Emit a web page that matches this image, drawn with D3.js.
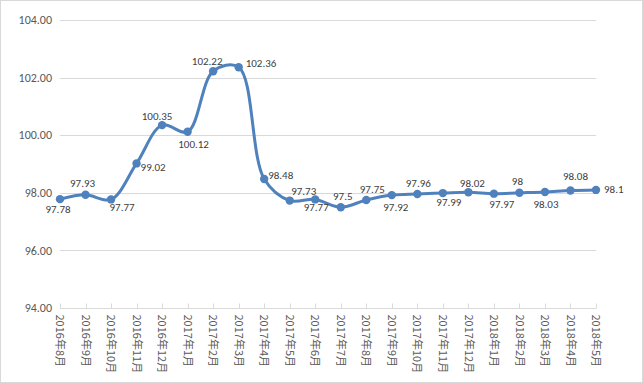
<!DOCTYPE html>
<html><head><meta charset="utf-8">
<script src="https://cdn.jsdelivr.net/npm/d3@7"></script>
<style>body{margin:0;background:#fff}svg{display:block}</style>
</head><body><svg id="c" width="643" height="383"></svg>
<script>
const categories = ["2016年8月","2016年9月","2016年10月","2016年11月","2016年12月","2017年1月","2017年2月","2017年3月","2017年4月","2017年5月","2017年6月","2017年7月","2017年8月","2017年9月","2017年10月","2017年11月","2017年12月","2018年1月","2018年2月","2018年3月","2018年4月","2018年5月"];
const values = [97.78,97.93,97.77,99.02,100.35,100.12,102.22,102.36,98.48,97.73,97.77,97.5,97.75,97.92,97.96,97.99,98.02,97.97,98,98.03,98.08,98.1];
const valueLabels = ["97.78","97.93","97.77","99.02","100.35","100.12","102.22","102.36","98.48","97.73","97.77","97.5","97.75","97.92","97.96","97.99","98.02","97.97","98","98.03","98.08","98.1"];
const yTicks = [94,96,98,100,102,104];
// label placement (style): anchor and offset from the point, in px
const labelAnchor = ["m","m","m","s","m","m","m","s","s","m","m","m","m","m","m","m","m","m","m","m","m","s"];
const labelDx = [-2,-3,11,4,-5,6,-6,7,4,14,1,2,6,4,1,6,4,8,-2,1,5,8];
const labelDy = [10,-12,8,4,-9,12,-10,-4,-4,-9,8,-11,-11,12,-11,9,-9,10,-12,12,-14,-1];

const svg = d3.select("#c");
svg.append("rect").attr("x",0.5).attr("y",0.5).attr("width",642).attr("height",382)
  .attr("fill","#fff").attr("stroke","#d9d9d9");

const x = d3.scalePoint().domain(categories).range([60,596]);
const y = d3.scaleLinear().domain([94,104]).range([308,20]);
const font = "Calibri, Carlito, 'Liberation Sans', 'Noto Sans CJK SC', sans-serif";

svg.append("g").selectAll("line").data(yTicks.filter(d=>d>94)).join("line")
  .attr("x1",60).attr("x2",596).attr("y1",d=>Math.round(y(d))+0.5).attr("y2",d=>Math.round(y(d))+0.5)
  .attr("stroke","#d9d9d9").attr("stroke-width",1);

svg.append("g").selectAll("text").data(yTicks).join("text")
  .attr("x",52).attr("y",d=>y(d)).attr("dy","0.35em").attr("text-anchor","end")
  .attr("font-family",font).attr("font-size",12).attr("fill","#595959")
  .text(d=>d.toFixed(2));

const xa = svg.append("g").attr("transform","translate(0,308.5)");
xa.append("line").attr("x1",60).attr("x2",596).attr("stroke","#d9d9d9");
xa.selectAll("line.t").data(categories).join("line").attr("class","t")
  .attr("x1",d=>Math.round(x(d))+0.5).attr("x2",d=>Math.round(x(d))+0.5).attr("y1",-5).attr("y2",0)
  .attr("stroke","#d9d9d9");
xa.selectAll("text").data(categories).join("text")
  .attr("transform",d=>`translate(${x(d)},6) rotate(90)`)
  .attr("dy","0.35em").attr("text-anchor","start")
  .attr("font-family","'Noto Sans CJK SC', sans-serif").attr("font-size",11).attr("fill","#595959")
  .text(d=>d);

const line = d3.line().x((d,i)=>x(categories[i])).y(d=>y(d)).curve(d3.curveCatmullRom.alpha(0.5));
svg.append("path").datum(values).attr("d",line).attr("fill","none")
  .attr("stroke","#4f81bd").attr("stroke-width",3).attr("stroke-linejoin","round");

svg.append("g").selectAll("circle").data(values).join("circle")
  .attr("cx",(d,i)=>x(categories[i])).attr("cy",d=>y(d)).attr("r",4.2).attr("fill","#4f81bd");

svg.append("g").selectAll("text").data(values).join("text")
  .attr("x",(d,i)=>x(categories[i])+labelDx[i])
  .attr("y",(d,i)=>y(d)+labelDy[i])
  .attr("dy","0.35em")
  .attr("text-anchor",(d,i)=>labelAnchor[i]==="s"?"start":"middle")
  .attr("font-family",font).attr("font-size",11).attr("fill","#404040")
  .text((d,i)=>valueLabels[i]);
</script></body></html>
